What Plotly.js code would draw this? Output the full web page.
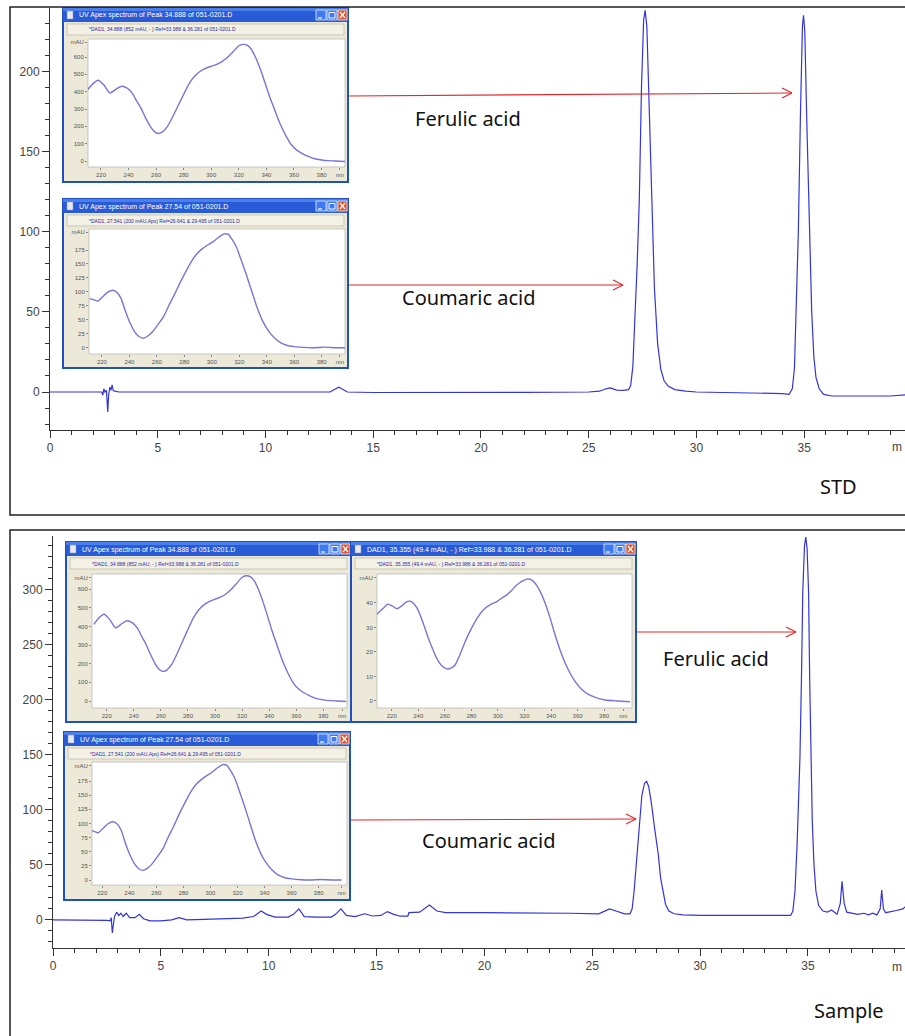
<!DOCTYPE html>
<html><head><meta charset="utf-8">
<script src="https://cdn.plot.ly/plotly-3.0.1.min.js"></script>
<style>html,body{margin:0;padding:0;background:#fff;overflow:hidden}</style>
</head><body><div id="chart" style="width:905px;height:1036px"></div>
<script>
// ---------- DATA ----------
const stdTime = [0,1,2,2.4,2.45,2.5,2.55,2.62,2.68,2.72,2.78,2.83,2.88,2.93,3.0,3.2,5,8,10,12,13.0,13.2,13.4,13.6,13.8,15,18,20,22,25,25.5,25.8,26.0,26.3,26.6,
  26.85,26.95,27.05,27.15,27.25,27.35,27.45,27.55,27.62,27.7,27.8,27.92,28.05,28.2,28.35,28.5,28.7,29.0,29.5,30,32,33.5,34.0,34.3,
  34.45,34.55,34.65,34.73,34.83,34.92,34.97,35.03,35.12,35.24,35.35,35.45,35.55,35.7,35.9,36.3,37,38,39,39.7];
const stdSignal = [0,0.2,0,0,-2,2,0,1,-12.5,-2,3,1,4.5,1,0.5,0,0,-0.3,-0.2,0,0,1.5,3,1.5,0,-0.3,-0.4,-0.3,-0.2,0,0.5,2,2.5,1.2,1.0,
  1.5,4,16,45,80,120,190,232,238,228,180,120,65,30,14,7,3.5,1.5,0.5,0,-0.3,-0.5,-1,-1.5,
  2,15,55,100,175,228,235,225,170,100,50,22,9,2,-1.5,-2.5,-2.5,-2.5,-2.5,-1.8];

const sampleTime = [0,1,2,2.5,2.65,2.7,2.75,2.8,2.85,2.95,3.05,3.15,3.25,3.4,3.55,3.8,4.0,4.2,4.5,5.0,5.5,5.85,6.2,7,8,8.8,9.3,9.65,9.9,10.3,10.9,
  11.15,11.4,11.65,12.2,12.9,13.1,13.35,13.6,14.0,14.45,14.8,15.2,15.5,15.8,16.1,16.45,16.5,17.0,17.45,17.8,18.2,20,22,24,25.3,25.8,26.1,26.5,
  26.75,26.85,26.94,27.02,27.1,27.2,27.3,27.42,27.52,27.62,27.75,27.9,28.06,28.17,28.27,28.4,28.55,28.8,29.2,30,32,34.1,
  34.2,34.3,34.4,34.5,34.63,34.7,34.76,34.84,34.9,34.96,35.03,35.08,35.13,35.2,35.28,35.37,35.5,35.7,35.9,36.1,36.35,36.5,36.58,36.68,36.8,
  37.3,37.6,37.8,38.0,38.2,38.35,38.42,38.5,38.6,39.1,39.4,39.55,39.7];
const sampleSignal = [0,0,0,-0.5,-1,2,-12,-3,3,7,4,6,3,6,2,2,5,1,-1,-1,0,2,0,0.5,1,1.5,3,8,5,2.5,2.5,
  5,10,3,2.5,2.5,5,10,4,3,5.5,3.5,4,7.5,5,3.3,3.3,6.5,7,13.5,8,6.5,6.5,6.5,6,5.5,10,8,5.5,
  5.5,10,26,45,63,92,113,124,126,121,105,82,60,38,26,14,8,5.5,4.5,4,4,4,
  4,8,26,70,148,220,298,340,348,338,298,220,148,90,50,26,13,8,7,9,5,15,35,15,7,
  5,6,4.5,6,4.5,10,27,10,6.5,8.5,10,12.5,11];

const ferulicWl  = [210.5,214,218,222,226.5,231,235,239,242.5,246,249,252,256,259,261.5,264,268,272,276,280,284,288,292,296,300,304,308,312,316,320,323,326,329,332,335,338,342,346,350,354,358,362,366,370,375,380,385,390,397];
const ferulicAbs = [412,445,466,440,393,415,431,420,393,345,305,255,197,168,159,165,197,255,320,385,447,490,518,535,547,558,575,600,632,665,673,668,645,600,542,475,380,295,213,148,95,63,43,28,13,6,2,0,-3];

const coumaricWl  = [211,214,217,220,224,228,231,234,237,240,244,247,250,253,257,261,265,269,273,277,281,285,289,293,297,301,305,309,312,315,318,321,325,329,333,337,341,345,350,355,360,367,374,382,390,397];
const coumaricAbs = [88,86,83.5,90,99,103,99,88,66,47,28,20,17,20,29,42,56,77,96,117,136,154,168,177,184,190,198,204,203,193,180,160,132,102,72,48,31,19,9,4,2,0.5,0,1,0,0];

const sampleFerulicWl  = [208.7,213,217,220.5,224,228,231.3,234,236.3,239,241.4,244.5,247.6,251,253.9,257.5,261.5,264.5,267.7,271.5,275.3,279,282.8,286.5,290.4,295,299.1,303,306.7,310.5,314.2,318,321.8,325,328,331.5,335.6,339.5,343.1,347,350.7,354.5,358.2,363,368.2,374,380.8,390,399.6];
const sampleFerulicAbs = [35.4,37.5,39.5,38.8,37.6,39,40.5,40.7,39.9,38,35.1,30.5,25.6,21,17.4,14.5,13.1,13.4,14.7,19,24.2,28.5,32.4,35.5,37.8,39.5,40.5,42,43.3,45.2,47.3,48.8,49.7,49.5,48,45,39.9,33.5,26.9,20.5,15.4,11.2,7.9,4.8,2.7,1.4,0.4,0,-0.3];

const mainXTicks = [0,5,10,15,20,25,30,35];
const wlTicks = [220,240,260,280,300,320,340,360,380];
const wlTickText = ['220','240','260','280','300','320','340','360','380'];
const absTicksBig = [0,100,200,300,400,500,600];
const absTicksMid = [0,25,50,75,100,125,150,175];
const absTicksSmall = [0,10,20,30,40];

// ---------- LAYOUT HELPERS ----------
const W = 905, H = 1036;
const fx = p => p / W, fy = p => 1 - p / H;
const shapes = [], annotations = [];
function rect(x0, y0, x1, y1, fill, lc, lw, layer) {
  shapes.push({type:'rect', xref:'paper', yref:'paper', x0:fx(x0), x1:fx(x1), y0:fy(y1), y1:fy(y0),
    fillcolor: fill || 'rgba(0,0,0,0)', line:{color: lc || 'rgba(0,0,0,0)', width: lw || 0}, layer: layer || 'below'});
}
function seg(x0, y0, x1, y1, color, width, layer) {
  shapes.push({type:'line', xref:'paper', yref:'paper', x0:fx(x0), x1:fx(x1), y0:fy(y0), y1:fy(y1),
    line:{color:color, width:width}, layer: layer || 'above'});
}
function text(x, y, t, size, color, xanchor, family) {
  annotations.push({xref:'paper', yref:'paper', x:fx(x), y:fy(y), text:t, showarrow:false,
    xanchor: xanchor || 'center', yanchor:'middle', font:{size:size, color:color, family: family || 'Liberation Sans, Arial, sans-serif'}});
}
function arrow(x0, y0, x1, y1) {
  seg(x0, y0, x1, y1, '#E0282C', 1.1);
  seg(x1 - 10, y1 - 5, x1, y1, '#E0282C', 1.1);
  seg(x1 - 10, y1 + 5, x1, y1, '#E0282C', 1.1);
}

// panel frames
rect(10, 7, 912, 515, null, '#222', 1.5, 'above');
rect(10, 530, 912, 1045, null, '#222', 1.5, 'above');

const tickFont = {family:'Liberation Sans, Arial, sans-serif', size:12, color:'#444'};
function mainX(domainL, rangeMax, anchor) {
  return {domain:[fx(domainL), 1], range:[0, rangeMax], anchor:anchor, showline:true, linecolor:'#333', linewidth:1,
    ticks:'outside', ticklen:7, tickwidth:1, tickcolor:'#333', tickvals:mainXTicks, tickfont:tickFont,
    minor:{ticks:'outside', ticklen:4, tickwidth:1, tickcolor:'#333', dtick:1, showgrid:false},
    showgrid:false, zeroline:false, automargin:false, fixedrange:true};
}
function mainY(top, bottom, range, anchor) {
  return {domain:[fy(bottom), fy(top)], range:range, anchor:anchor, showline:true, linecolor:'#333', linewidth:1,
    ticks:'outside', ticklen:7, tickwidth:1, tickcolor:'#333', dtick:50, tick0:0, tickfont:tickFont,
    minor:{ticks:'outside', ticklen:4, tickwidth:1, tickcolor:'#333', dtick:10, showgrid:false},
    showgrid:false, zeroline:false, automargin:false, fixedrange:true};
}

const layout = {
  width: W, height: H, margin:{l:0, r:0, t:0, b:0},
  paper_bgcolor:'#ffffff', plot_bgcolor:'rgba(0,0,0,0)', showlegend:false,
  xaxis: mainX(50, 39.68, 'y'),
  yaxis: mainY(8, 430, [-23.7, 239.5], 'x'),
  xaxis2: mainX(53, 39.5, 'y2'),
  yaxis2: mainY(536, 948, [-25.6, 349], 'x2'),
  shapes: shapes, annotations: annotations
};

const traces = [
  {x: stdTime, y: stdSignal, xaxis:'x', yaxis:'y', type:'scatter', mode:'lines', line:{color:'#3434DC', width:1.2}, hoverinfo:'skip'},
  {x: sampleTime, y: sampleSignal, xaxis:'x2', yaxis:'y2', type:'scatter', mode:'lines', line:{color:'#3434DC', width:1.2}, hoverinfo:'skip'}
];

// axis unit label at the right edge
text(904, 447, 'm', 12, '#444', 'right');
text(904, 967, 'm', 12, '#444', 'right');

// ---------- INSET WINDOWS ----------
const insets = [
  {n:3, win:[63,8,348,182], plot:[88,39,345,167], xr:[210.6,397], yr:[-34.6,704], yt:absTicksBig, mau:686, nm:393.3,
   wl:ferulicWl, ab:ferulicAbs, title:'UV Apex spectrum of Peak 34.888 of 051-0201.D',
   sub:'*DAD1, 34.888 (852 mAU, - ) Ref=33.988 & 36.281 of 051-0201.D'},
  {n:4, win:[63,199,348,368], plot:[89,229,345,354], xr:[210.6,397], yr:[-11.3,212.7], yt:absTicksMid, mau:206.8, nm:393.3,
   wl:coumaricWl, ab:coumaricAbs, title:'UV Apex spectrum of Peak 27.54 of 051-0201.D',
   sub:'*DAD1, 27.541 (200 mAU,Apx) Ref=26.641 & 29.495 of 051-0201.D'},
  {n:5, win:[66,542,351,722], plot:[92,574,347,708], xr:[209.1,397.5], yr:[-37.6,682.4], yt:absTicksBig, mau:662.5, nm:393.9,
   wl:ferulicWl, ab:ferulicAbs, title:'UV Apex spectrum of Peak 34.888 of 051-0201.D',
   sub:'*DAD1, 34.888 (852 mAU, - ) Ref=33.988 & 36.281 of 051-0201.D'},
  {n:6, win:[351,542,636,722], plot:[377,574,632,708], xr:[208.9,401], yr:[-2.86,51.8], yt:absTicksSmall, mau:50.3, nm:394.5,
   wl:sampleFerulicWl, ab:sampleFerulicAbs, title:'DAD1, 35.355 (49.4 mAU, - ) Ref=33.988 & 36.281 of 051-0201.D',
   sub:'*DAD1, 35.355 (49.4 mAU, - ) Ref=33.988 & 36.281 of 051-0201.D'},
  {n:7, win:[64,732,350,900], plot:[92,762,347,885], xr:[212.4,401], yr:[-8.8,208.6], yt:absTicksMid, mau:202, nm:397,
   wl:coumaricWl, ab:coumaricAbs, title:'UV Apex spectrum of Peak 27.54 of 051-0201.D',
   sub:'*DAD1, 27.541 (200 mAU,Apx) Ref=26.641 & 29.495 of 051-0201.D'}
];

const insetFont = {family:'Liberation Sans, Arial, sans-serif', size:6, color:'#555'};
insets.forEach(ins => {
  const [L, T, R, B] = ins.win;
  const [pl, pt, pr, pb] = ins.plot;
  rect(L, T, R, B, '#ECE9D8', '#1F4FC4', 2);
  rect(L, T, R, T + 14, '#2A5BD6', null, 0);
  rect(L, T, R, T + 3, '#4A80EE', null, 0);
  rect(L + 4, T + 3, L + 10, T + 11, '#E6E9F2', '#8892B0', 0.5);
  rect(R - 32, T + 2, R - 22, T + 12, '#3F7BEF', '#ffffff', 0.7);
  rect(R - 21, T + 2, R - 11, T + 12, '#3F7BEF', '#ffffff', 0.7);
  rect(R - 10, T + 2, R - 1, T + 12, '#E0532C', '#ffffff', 0.7);
  seg(R - 30, T + 10, R - 26, T + 10, '#ffffff', 1.2, 'below');
  rect(R - 19, T + 4.5, R - 13, T + 10, null, '#ffffff', 1);
  seg(R - 8, T + 4, R - 3, T + 10, '#ffffff', 1.2, 'below');
  seg(R - 8, T + 10, R - 3, T + 4, '#ffffff', 1.2, 'below');
  rect(L + 4, T + 16, R - 4, T + 27, '#F3F1E6', '#B5B09C', 0.6);
  rect(pl, pt, pr, pb, '#ffffff', '#A8A8A8', 0.6);
  text(L + 14, T + 7.5, ins.title, 7, '#ffffff', 'left');
  text(L + 24, T + 21.5, ins.sub, 5, '#2B2BA0', 'left');

  layout['xaxis' + ins.n] = {domain:[fx(pl), fx(pr)], range:ins.xr, anchor:'y' + ins.n,
    tickvals: wlTicks.concat([ins.nm]), ticktext: wlTickText.concat(['nm']), ticks:'outside', ticklen:2, tickcolor:'#888',
    tickfont: insetFont, showline:false, showgrid:false, zeroline:false, automargin:false, fixedrange:true};
  layout['yaxis' + ins.n] = {domain:[fy(pb), fy(pt)], range:ins.yr, anchor:'x' + ins.n,
    tickvals: ins.yt.concat([ins.mau]), ticktext: ins.yt.map(String).concat(['mAU']), ticks:'outside', ticklen:2, tickcolor:'#888',
    tickfont: insetFont, showline:false, showgrid:false, zeroline:false, automargin:false, fixedrange:true};
  traces.push({x: ins.wl, y: ins.ab, xaxis:'x' + ins.n, yaxis:'y' + ins.n, type:'scatter', mode:'lines',
    line:{color:'#7774DA', width:1.4, shape:'spline', smoothing:0.6}, hoverinfo:'skip'});
});

// ---------- LABELS & ARROWS ----------
const labelFont = 'Noto Sans, Noto Sans CJK KR, sans-serif';
arrow(349, 96, 792, 93);
arrow(349, 285, 623, 285);
arrow(637, 632, 796, 632);
arrow(351, 820, 636, 819);
text(468, 118, 'Ferulic acid', 20, '#111', 'center', labelFont);
text(469, 297, 'Coumaric acid', 20, '#111', 'center', labelFont);
text(838, 486, 'STD', 20, '#111', 'center', labelFont);
text(716, 658, 'Ferulic acid', 20, '#111', 'center', labelFont);
text(489, 840, 'Coumaric acid', 20, '#111', 'center', labelFont);
text(849, 1010, 'Sample', 20, '#111', 'center', labelFont);

Plotly.newPlot('chart', traces, layout, {staticPlot:true, displayModeBar:false});
</script></body></html>
